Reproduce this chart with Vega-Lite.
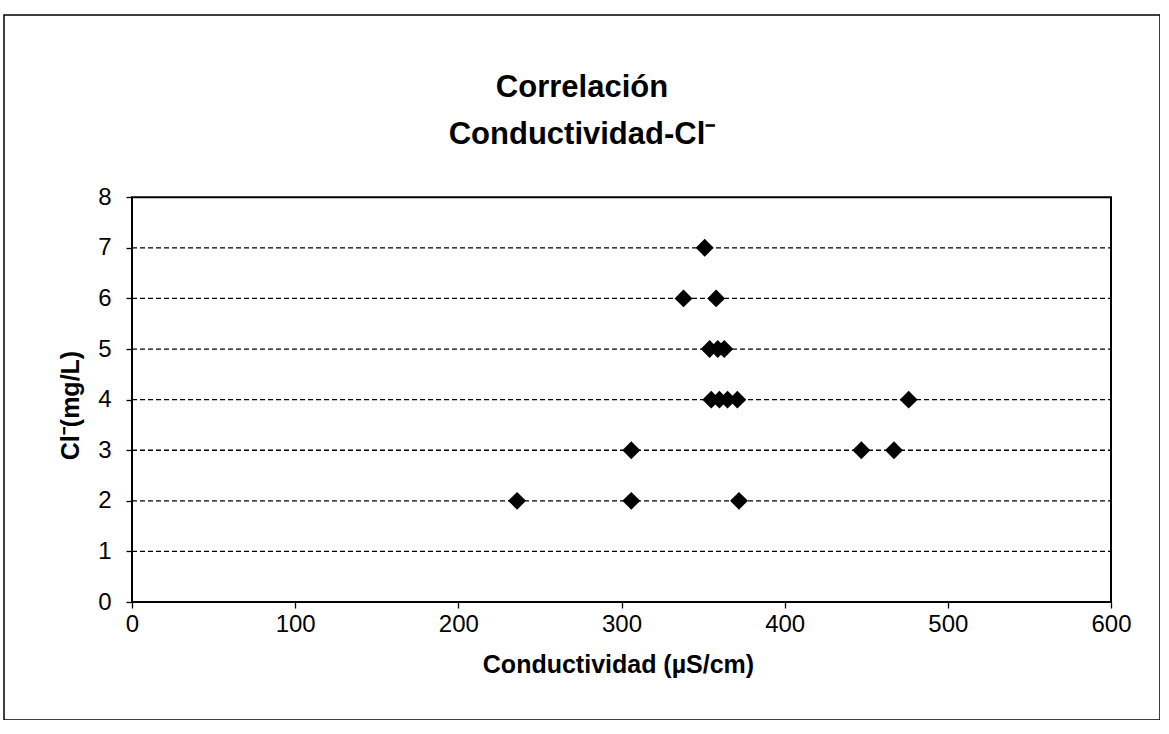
{
  "$schema": "https://vega.github.io/schema/vega-lite/v6.json",
  "width": 1156,
  "height": 705,
  "autosize": {"type": "none"},
  "padding": {"left": 4, "top": 15, "right": 0, "bottom": 0},
  "background": "white",
  "config": {
    "font": "Liberation Sans",
    "view": {"stroke": "black", "strokeWidth": 1.5}
  },
  "title": {
    "text": ["Correlación", "Conductividad-Cl⁻"],
    "fontSize": 31,
    "fontWeight": "bold",
    "color": "black",
    "anchor": "middle",
    "frame": "group",
    "offset": 0,
    "dy": 136,
    "lineHeight": 47
  },
  "datasets": {
    "marco": [{"conductividad": 0, "conductividad_fin": 600, "cl": 0, "cl_fin": 8}],
    "rejilla": [
      {"conductividad": 0, "conductividad_fin": 600, "cl": 1},
      {"conductividad": 0, "conductividad_fin": 600, "cl": 2},
      {"conductividad": 0, "conductividad_fin": 600, "cl": 3},
      {"conductividad": 0, "conductividad_fin": 600, "cl": 4},
      {"conductividad": 0, "conductividad_fin": 600, "cl": 5},
      {"conductividad": 0, "conductividad_fin": 600, "cl": 6},
      {"conductividad": 0, "conductividad_fin": 600, "cl": 7}
    ],
    "muestras": [
      {"conductividad": 351, "cl": 7},
      {"conductividad": 338, "cl": 6},
      {"conductividad": 358, "cl": 6},
      {"conductividad": 354, "cl": 5},
      {"conductividad": 359, "cl": 5},
      {"conductividad": 363, "cl": 5},
      {"conductividad": 355, "cl": 4},
      {"conductividad": 360, "cl": 4},
      {"conductividad": 365, "cl": 4},
      {"conductividad": 371, "cl": 4},
      {"conductividad": 476, "cl": 4},
      {"conductividad": 306, "cl": 3},
      {"conductividad": 447, "cl": 3},
      {"conductividad": 467, "cl": 3},
      {"conductividad": 236, "cl": 2},
      {"conductividad": 306, "cl": 2},
      {"conductividad": 372, "cl": 2}
    ]
  },
  "encoding": {
    "x": {
      "field": "conductividad",
      "type": "quantitative",
      "scale": {"domain": [-78.45, 630.03], "nice": false, "zero": false},
      "axis": {
        "title": "Conductividad (µS/cm)",
        "values": [0, 100, 200, 300, 400, 500, 600],
        "offset": -118,
        "domain": false,
        "grid": false,
        "ticks": true,
        "tickSize": 6,
        "tickColor": "black",
        "tickWidth": 1.3,
        "labelFontSize": 24,
        "labelColor": "black",
        "labelPadding": 4,
        "labelFlush": false,
        "labelOverlap": false,
        "titleFontSize": 25,
        "titleFontWeight": "bold",
        "titleColor": "black",
        "titlePadding": 16,
        "titleX": 614
      }
    },
    "y": {
      "field": "cl",
      "type": "quantitative",
      "scale": {"domain": [-2.33, 11.6], "nice": false, "zero": false},
      "axis": {
        "title": "Cl⁻(mg/L)",
        "values": [0, 1, 2, 3, 4, 5, 6, 7, 8],
        "offset": -128,
        "domain": false,
        "grid": false,
        "ticks": true,
        "tickSize": 6,
        "tickColor": "black",
        "tickWidth": 1.3,
        "labelFontSize": 24,
        "labelColor": "black",
        "labelPadding": 15,
        "labelFlush": false,
        "labelOverlap": false,
        "titleFontSize": 25,
        "titleFontWeight": "bold",
        "titleColor": "black",
        "titlePadding": 14,
        "titleY": 390
      }
    }
  },
  "layer": [
    {
      "data": {"name": "rejilla"},
      "mark": {"type": "rule", "color": "black", "strokeWidth": 1.3, "strokeDash": [5, 3]},
      "encoding": {"x2": {"field": "conductividad_fin"}}
    },
    {
      "data": {"name": "marco"},
      "mark": {"type": "rect", "fill": null, "stroke": "black", "strokeWidth": 2},
      "encoding": {"x2": {"field": "conductividad_fin"}, "y2": {"field": "cl_fin"}}
    },
    {
      "data": {"name": "muestras"},
      "mark": {"type": "point", "shape": "diamond", "filled": true, "color": "black", "opacity": 1, "size": 320}
    }
  ]
}
